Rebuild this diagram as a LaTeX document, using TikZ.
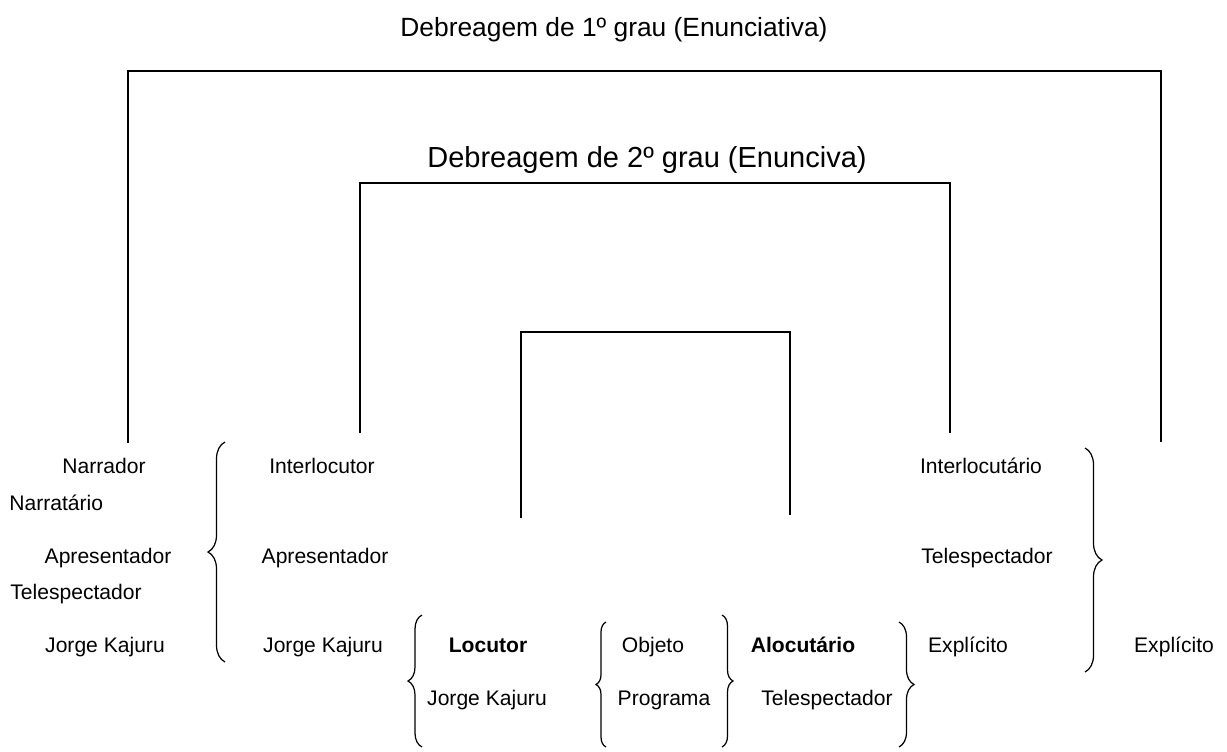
\documentclass[tikz,border=0pt]{standalone}
\usepackage{fontspec}
\setmainfont{Liberation Sans}
\usepackage{tikz}
\usetikzlibrary{decorations.pathreplacing}

\begin{document}
\begin{tikzpicture}[x=0.02cm, y=-0.02cm,
    lbl/.style={font=\fontsize{12}{14}\selectfont, anchor=base, inner sep=0pt},
    lblw/.style={lbl, anchor=base west},
    bold/.style={lbl, font=\fontsize{12}{14}\selectfont\bfseries},
    bar/.style={line width=0.9pt},
    brc/.style={line width=0.7pt, decorate, decoration={brace, amplitude=#1}}]
            \useasboundingbox (0, 0) rectangle (1227, 751);
            \coordinate (ol) at (128, 443);
            \coordinate (olt) at (128, 71);
            \coordinate (ort) at (1161, 71);
            \coordinate (or) at (1161, 442);
            \coordinate (ml) at (360, 433);
            \coordinate (mlt) at (360, 183);
            \coordinate (mrt) at (950, 183);
            \coordinate (mr) at (950, 433);
            \coordinate (il) at (521, 518);
            \coordinate (ilt) at (521, 332);
            \coordinate (irt) at (790, 332);
            \coordinate (ir) at (790, 515);
            \draw[bar](ol)--(olt)--(ort)--(or);
            \draw[bar](ml)--(mlt)--(mrt)--(mr);
            \draw[bar](il)--(ilt)--(irt)--(ir);
            \node[lbl, font=\fontsize{15}{18}\selectfont] (t1) at (614, 36) {Debreagem de 1º grau (Enunciativa)};
            \node[lbl, font=\fontsize{16.5}{20}\selectfont] (t2) at (647, 167) {Debreagem de 2º grau (Enunciva)};
            \node[lbl] (narrador) at (104, 473) {Narrador};
            \node[lblw] (narratario) at (9, 510) {Narratário};
            \node[lbl] (apres1) at (108, 563) {Apresentador};
            \node[lblw] (telesp1) at (10, 599) {Telespectador};
            \node[lbl] (jorge1) at (105, 652) {Jorge Kajuru};
            \node[lbl] (interloc) at (322, 473) {Interlocutor};
            \node[lbl] (apres2) at (325, 563) {Apresentador};
            \node[lbl] (jorge2) at (323, 652) {Jorge Kajuru};
            \node[lbl] (interlocut) at (981, 473) {Interlocutário};
            \node[lbl] (telesp2) at (987, 563) {Telespectador};
            \node[lbl] (expl1) at (968, 652) {Explícito};
            \node[lbl] (expl2) at (1174, 652) {Explícito};
            \node[bold] (locutor) at (488, 652) {Locutor};
            \node[lbl] (jorge3) at (487, 705) {Jorge Kajuru};
            \node[lbl] (objeto) at (653, 652) {Objeto};
            \node[lbl] (programa) at (664, 705) {Programa};
            \node[bold] (alocut) at (803, 652) {Alocutário};
            \node[lbl] (telesp3) at (827, 705) {Telespectador};
            \draw[brc=0.34cm](225, 662)--(225, 442);
            \draw[brc=0.34cm](1085, 448)--(1085, 672);
            \draw[brc=0.28cm](422, 747)--(422, 615);
            \draw[brc=0.2cm](606, 747)--(606, 622);
            \draw[brc=0.22cm](722, 615)--(722, 747);
            \draw[brc=0.3cm](899, 622)--(899, 747);
        \end{tikzpicture}
\end{document}
